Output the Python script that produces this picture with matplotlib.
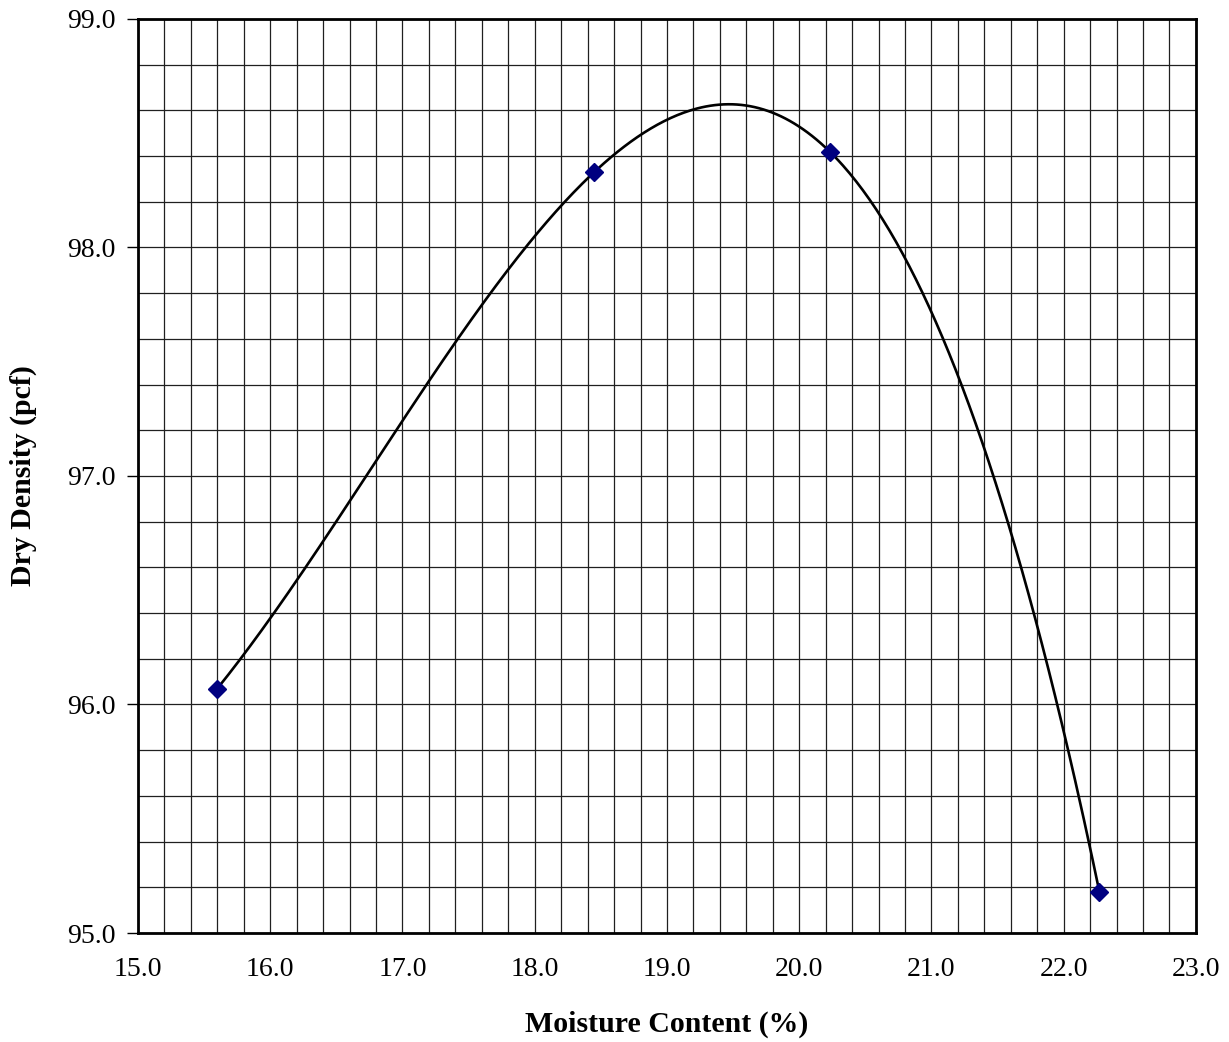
import numpy as np
import matplotlib
matplotlib.use("Agg")
import matplotlib.pyplot as plt

plt.rcParams['font.family'] = ['Liberation Serif', 'DejaVu Serif']

# test points
moisture = [15.6, 18.45, 20.23, 22.27]
dry_density = [96.07, 98.33, 98.42, 95.18]

x_ticks = [15.0, 16.0, 17.0, 18.0, 19.0, 20.0, 21.0, 22.0, 23.0]
y_ticks = [95.0, 96.0, 97.0, 98.0, 99.0]

fig = plt.figure(figsize=(12.29, 10.42), dpi=100)
ax = fig.add_axes([0.1123, 0.1046, 0.8608, 0.8772])

# smooth curve (3rd order fit through the points)
coef = np.polyfit(moisture, dry_density, 3)
xs = np.linspace(min(moisture), max(moisture), 400)
ax.plot(xs, np.polyval(coef, xs), color='black', lw=1.9, zorder=3)
ax.plot(moisture, dry_density, linestyle='none', marker='D', markersize=9,
        color='#000080', zorder=4)

ax.set_xlim(15, 23)
ax.set_ylim(95, 99)
ax.set_xticks(x_ticks)
ax.set_yticks(y_ticks)
ax.set_xticklabels(['%.1f' % v for v in x_ticks], fontsize=20)
ax.set_yticklabels(['%.1f' % v for v in y_ticks], fontsize=20)
ax.set_xticks(np.arange(15, 23.001, 0.2), minor=True)
ax.set_yticks(np.arange(95, 99.001, 0.2), minor=True)
ax.grid(which='both', color='#202020', lw=0.9)
ax.tick_params(axis='x', which='both', length=0, pad=17)
ax.tick_params(axis='y', which='major', length=8, width=1, pad=8)
ax.tick_params(axis='y', which='minor', length=0)
for s in ax.spines.values():
    s.set_linewidth(2)
    s.set_zorder(5)

ax.set_xlabel('Moisture Content (%)', fontsize=21.5, fontweight='bold', labelpad=21)
ax.set_ylabel('Dry Density (pcf)', fontsize=21.5, fontweight='bold', labelpad=22)

fig.savefig('out.png', dpi=100)
